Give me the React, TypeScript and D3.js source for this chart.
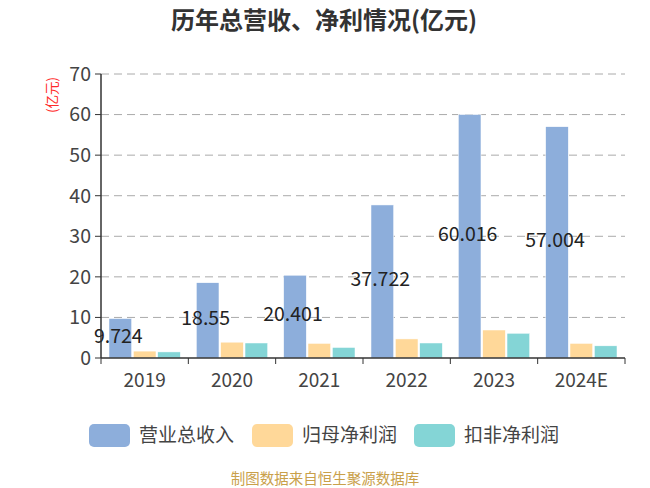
import * as d3 from 'd3';

const years = ['2019', '2020', '2021', '2022', '2023', '2024E'];
const revenue = [9.724, 18.55, 20.401, 37.722, 60.016, 57.004];
const netProfit = [1.7, 3.9, 3.6, 4.7, 6.9, 3.6];
const deductedProfit = [1.5, 3.7, 2.6, 3.7, 6.1, 3.0];
const seriesNames = ['营业总收入', '归母净利润', '扣非净利润'];
const colors = ['#8DAEDB', '#FFD899', '#84D5D6'];
const yTicks = [0, 10, 20, 30, 40, 50, 60, 70];

const W = 650;
const H = 488;
const margin = { top: 74, right: 25, bottom: 130, left: 101 };
const FONT = '"Noto Sans CJK SC", "Noto Sans", sans-serif';

export default function App() {
  const innerW = W - margin.left - margin.right;
  const innerH = H - margin.top - margin.bottom;

  const x = d3.scaleBand<string>().domain(years).range([0, innerW]);
  const inner = d3
    .scaleBand<number>()
    .domain([0, 1, 2])
    .range([8, x.bandwidth() - 8])
    .paddingInner(0.07);
  const y = d3.scaleLinear().domain([0, 70]).range([innerH, 0]);

  const series = [revenue, netProfit, deductedProfit];

  return (
    <svg
      width={W}
      height={H}
      style={{ position: 'absolute', left: 0, top: 0, fontFamily: FONT }}
    >
      <rect width={W} height={H} fill="#fff" />
      <text x={324} y={29} textAnchor="middle" fontSize={24} fontWeight="bold" fill="#333">
        历年总营收、净利情况(亿元)
      </text>
      <text
        transform={`translate(57,95) rotate(-90)`}
        textAnchor="middle"
        fontSize={13.5}
        fill="#ff2a2a"
      >
        (亿元)
      </text>

      <g transform={`translate(${margin.left},${margin.top})`}>
        {yTicks.map((t) => (
          <g key={t} transform={`translate(0,${y(t)})`}>
            {t > 0 && (
              <line x1={0} x2={innerW} stroke="#aaa" strokeWidth={1} strokeDasharray="8,5" />
            )}
            <line x1={-6} x2={0} stroke="#333" />
            <text x={-10} dy="0.35em" textAnchor="end" fontSize={19.5} fill="#444">
              {t}
            </text>
          </g>
        ))}

        {years.map((yr, i) => (
          <g key={yr} transform={`translate(${x(yr)},0)`}>
            {series.map((s, k) => (
              <rect
                key={k}
                x={inner(k)}
                y={y(s[i])}
                width={inner.bandwidth()}
                height={innerH - y(s[i])}
                fill={colors[k]}
                stroke="#fff"
                strokeWidth={0.5}
              />
            ))}
          </g>
        ))}

        {years.map((yr, i) => (
          <text
            key={yr}
            x={(x(yr) as number) + (inner(0) as number) + inner.bandwidth() / 2 - 2}
            y={(y(revenue[i]) + innerH) / 2 - 2}
            dy="0.35em"
            textAnchor="middle"
            fontSize={19.5}
            fill="#222"
          >
            {revenue[i]}
          </text>
        ))}

        <line x1={0} x2={innerW} y1={innerH} y2={innerH} stroke="#333" strokeWidth={1.5} />
        <line x1={0} x2={0} y1={0} y2={innerH} stroke="#333" strokeWidth={1.5} />
        {years.map((yr) => (
          <line
            key={'t' + yr}
            x1={x(yr)}
            x2={x(yr)}
            y1={innerH}
            y2={innerH + 6}
            stroke="#333"
          />
        ))}
        <line x1={innerW} x2={innerW} y1={innerH} y2={innerH + 6} stroke="#333" />
        {years.map((yr) => (
          <text
            key={'l' + yr}
            x={(x(yr) as number) + x.bandwidth() / 2}
            y={innerH + 29}
            textAnchor="middle"
            fontSize={19}
            fill="#444"
          >
            {yr}
          </text>
        ))}
      </g>

      {seriesNames.map((name, k) => {
        const lx = [89, 252, 414][k];
        return (
          <g key={name} transform={`translate(${lx},424)`}>
            <rect width={41} height={23} rx={5} fill={colors[k]} />
            <text x={50} y={11.5} dy="0.35em" fontSize={19} fill="#444">
              {name}
            </text>
          </g>
        );
      })}

      <text x={325} y={484} textAnchor="middle" fontSize={14.5} fill="#c9a04a">
        制图数据来自恒生聚源数据库
      </text>
    </svg>
  );
}
